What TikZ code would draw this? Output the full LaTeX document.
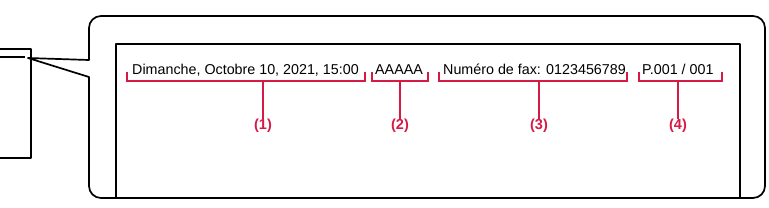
\documentclass[tikz,border=0pt]{standalone}
\usepackage{fontspec}
\setmainfont{Liberation Sans}
\definecolor{brk}{RGB}{215,25,70}
\tikzset{
  blk/.style={line width=1.7pt, black, line join=round},
  brkline/.style={line width=1.1pt, brk},
  txt/.style={anchor=base west, inner sep=0pt, font=\fontsize{14.3}{16}\selectfont},
  lbl/.style={inner sep=0pt, text=brk, font=\bfseries\fontsize{14.5}{16}\selectfont}
}
\begin{document}
\begin{tikzpicture}[x=1pt,y=-1pt]
\useasboundingbox (0,0) rectangle (769,207);
% small device box
\draw[blk] (-3,49) -- (31,49) -- (31,158) -- (-3,158);
\draw[blk] (-3,57) -- (25,57);
% callout
\coordinate (tip) at (28,58);
\draw[blk] (89,60) -- (89,28) arc[start angle=180,end angle=270,radius=12] -- (753,16)
  arc[start angle=270,end angle=360,radius=12] -- (765,186)
  arc[start angle=0,end angle=90,radius=12] -- (101,198)
  arc[start angle=90,end angle=180,radius=12] -- (89,77) -- (tip) -- cycle;
% screen
\draw[blk] (116,198) -- (116,44) -- (740,44) -- (740,198);
% texts
\node[txt] (t1) at (132,74) {Dimanche, Octobre 10, 2021, 15:00};
\node[txt] (t2) at (375,74) {AAAAA};
\node[txt] (t3) at (443,74) {Numéro de fax: 0123456789};
\node[txt] (t4) at (642,74) {P.001 / 001};
% labels
\node[lbl] (l1) at (263,126) {(1)};
\node[lbl] (l2) at (400,126) {(2)};
\node[lbl] (l3) at (539,126) {(3)};
\node[lbl] (l4) at (678,126) {(4)};
% brackets
\draw[brkline] (127,72) -- (127,81) -- (365,81) -- (365,72);
\draw[brkline] (263,81) -- (l1.north);
\draw[brkline] (372,72) -- (372,81) -- (428,81) -- (428,72);
\draw[brkline] (400,81) -- (l2.north);
\draw[brkline] (439,72) -- (439,81) -- (627,81) -- (627,72);
\draw[brkline] (539,81) -- (l3.north);
\draw[brkline] (639,72) -- (639,81) -- (722,81) -- (722,72);
\draw[brkline] (678,81) -- (l4.north);
\end{tikzpicture}
\end{document}
